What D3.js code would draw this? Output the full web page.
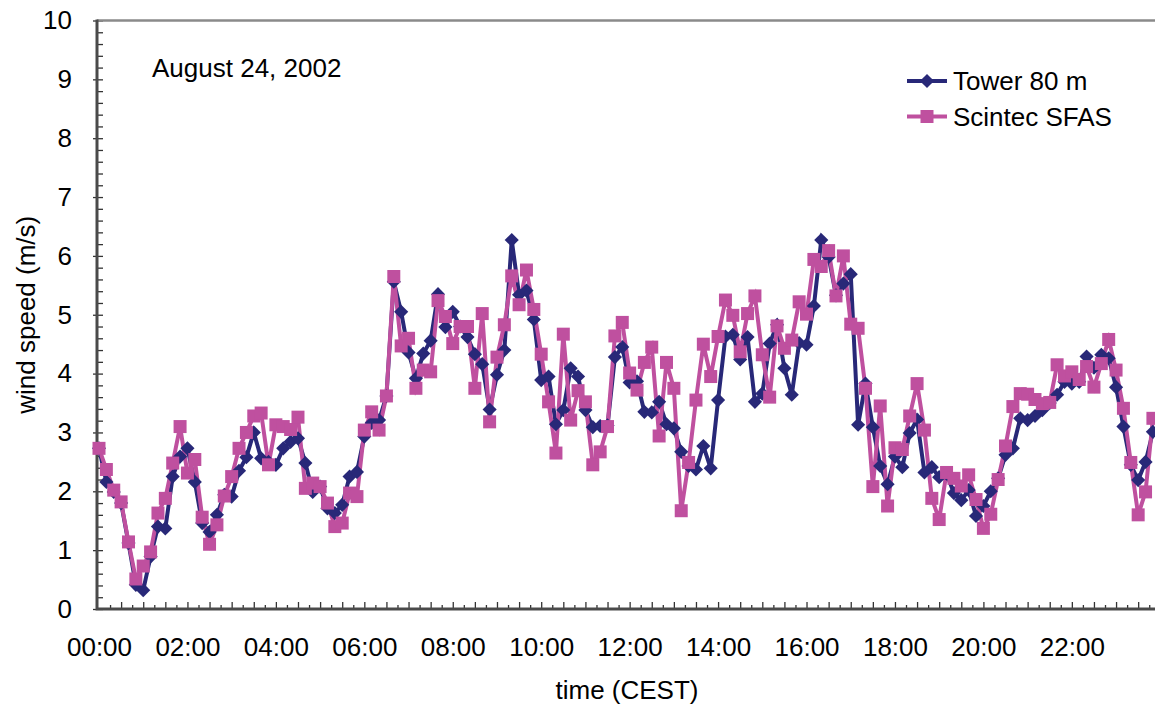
<!DOCTYPE html>
<html>
<head>
<meta charset="utf-8">
<script src="https://cdn.jsdelivr.net/npm/d3@7"></script>
<style>
  body { margin: 0; background: #fff; }
  svg { display: block; font-family: "Liberation Sans", Arial, sans-serif; }
</style>
</head>
<body>
<div id="chart-area"></div>
<script>
// wind speed every 10 minutes, August 24, 2002
const tower = [
  2.73, 2.16, 1.99, 1.80, 1.12, 0.41, 0.32, 0.89, 1.40, 1.37, 2.25, 2.59,
  2.73, 2.16, 1.46, 1.31, 1.60, 1.94, 1.91, 2.35, 2.58, 3.00, 2.56, 2.50,
  2.45, 2.73, 2.84, 2.90, 2.48, 1.99, 2.08, 1.71, 1.63, 1.77, 2.25, 2.33,
  2.93, 3.16, 3.21, 3.62, 5.56, 5.05, 4.36, 3.92, 4.34, 4.56, 5.35, 4.79,
  5.05, 4.80, 4.62, 4.33, 4.16, 3.39, 3.98, 4.40, 6.27, 5.34, 5.41, 4.92,
  3.89, 3.95, 3.14, 3.38, 4.09, 3.95, 3.38, 3.09, 3.11, 3.12, 4.28, 4.45,
  3.85, 3.87, 3.35, 3.34, 3.52, 3.14, 3.07, 2.67, 2.43, 2.37, 2.77, 2.39,
  3.55, 4.63, 4.66, 4.24, 4.62, 3.52, 3.66, 4.51, 4.83, 4.09, 3.64, 4.52,
  4.49, 5.15, 6.27, 5.98, 5.33, 5.53, 5.69, 3.13, 3.83, 3.09, 2.43, 2.12,
  2.59, 2.41, 2.99, 3.22, 2.32, 2.41, 2.24, 2.30, 1.97, 1.85, 2.02, 1.58,
  1.75, 2.00, 2.22, 2.62, 2.73, 3.24, 3.21, 3.28, 3.38, 3.50, 3.64, 3.86,
  3.83, 3.86, 4.29, 4.10, 4.32, 4.26, 3.77, 3.10, 2.45, 2.19, 2.50, 3.01
]
const scintec = [
  2.73, 2.37, 2.02, 1.82, 1.14, 0.51, 0.73, 0.97, 1.63, 1.88, 2.48, 3.10,
  2.31, 2.54, 1.56, 1.10, 1.43, 1.92, 2.25, 2.73, 3.00, 3.28, 3.33, 2.45,
  3.13, 3.10, 3.05, 3.26, 2.05, 2.14, 2.08, 1.80, 1.40, 1.46, 1.97, 1.91,
  3.04, 3.35, 3.04, 3.62, 5.65, 4.47, 4.60, 3.75, 4.06, 4.03, 5.24, 4.97,
  4.51, 4.80, 4.80, 3.75, 5.02, 3.18, 4.28, 4.83, 5.66, 5.17, 5.76, 5.09,
  4.33, 3.52, 2.65, 4.67, 3.21, 3.71, 3.52, 2.45, 2.67, 3.10, 4.64, 4.87,
  4.01, 3.72, 4.19, 4.45, 2.94, 4.19, 3.75, 1.67, 2.49, 3.55, 4.50, 3.95,
  4.63, 5.25, 4.99, 4.37, 5.02, 5.32, 4.32, 3.60, 4.81, 4.43, 4.57, 5.22,
  5.01, 5.94, 5.82, 6.09, 5.32, 6.00, 4.84, 4.77, 3.75, 2.08, 3.45, 1.75,
  2.74, 2.71, 3.28, 3.83, 3.04, 1.88, 1.52, 2.32, 2.22, 2.09, 2.28, 1.86,
  1.37, 1.61, 2.20, 2.77, 3.44, 3.66, 3.65, 3.56, 3.49, 3.51, 4.15, 3.96,
  4.03, 3.90, 4.12, 3.77, 4.17, 4.58, 4.06, 3.41, 2.49, 1.60, 1.99, 3.24
]
const STEP_MIN = 10
const xTickMinutes = d3.range(0, 1321, 120)
const yTicks = d3.range(0, 11)

const WIDTH = 1155
const HEIGHT = 706
const FONT = "26px"
const NAVY = "#282878"
const PINK = "#BF509F"

const svg = d3.select("#chart-area").append("svg")
  .attr("width", WIDTH)
  .attr("height", HEIGHT)

const x = d3.scaleLinear()
  .domain([0, 1440])
  .range([99, 99 + 144 * 7.37])

const y = d3.scaleLinear()
  .domain([0, 10])
  .range([609, 20.5])

const fmt = m => d3.format("02")(Math.floor(m / 60)) + ":" + d3.format("02")(m % 60)

// x tick marks (inside), long every 30 min, short in between
svg.append("g")
  .attr("transform", `translate(0, ${y(0)})`)
  .call(d3.axisBottom(x).tickValues(d3.range(30, 1441, 30)).tickSize(-7).tickFormat(""))
  .call(g => g.select(".domain").remove())
  .selectAll("line").attr("stroke", "#333").attr("stroke-width", 1.3)

svg.append("g")
  .attr("transform", `translate(0, ${y(0)})`)
  .call(d3.axisBottom(x).tickValues(d3.range(15, 1441, 30)).tickSize(-4).tickFormat(""))
  .call(g => g.select(".domain").remove())
  .selectAll("line").attr("stroke", "#333").attr("stroke-width", 1.3)

// x labels
svg.append("g")
  .attr("transform", `translate(0, ${y(0)})`)
  .call(d3.axisBottom(x).tickValues(xTickMinutes).tickSize(0).tickFormat(fmt))
  .call(g => g.select(".domain").remove())
  .selectAll("text")
    .attr("y", 47)
    .attr("dy", null)
    .attr("fill", "#000")
    .style("font-size", FONT)
    .style("font-family", "Liberation Sans, Arial, sans-serif")

// y minor ticks every 0.2 (inside)
svg.append("g")
  .attr("transform", "translate(97, 0)")
  .call(d3.axisLeft(y).tickValues(d3.range(0, 10.01, 0.2)).tickSize(-6).tickFormat(""))
  .call(g => g.select(".domain").remove())
  .selectAll("line").attr("stroke", "#333").attr("stroke-width", 1.3)

// y major ticks crossing
svg.append("g")
  .attr("transform", "translate(97, 0)")
  .call(d3.axisLeft(y).tickValues(yTicks).tickSizeInner(4).tickSizeOuter(0).tickPadding(21))
  .call(g => g.select(".domain").remove())
  .call(g => g.selectAll("line").attr("stroke", "#333").attr("stroke-width", 1.3))
  .selectAll("text")
    .attr("fill", "#000")
    .style("font-size", FONT)
    .style("font-family", "Liberation Sans, Arial, sans-serif")

// plot frame: gray top line, dark left and bottom axes
svg.append("line")
  .attr("x1", 97).attr("x2", WIDTH)
  .attr("y1", y(10)).attr("y2", y(10))
  .attr("stroke", "#8a8a8a").attr("stroke-width", 2.5)

svg.append("path")
  .attr("d", `M97,${y(10) - 1}V${y(0)}H${WIDTH}`)
  .attr("fill", "none")
  .attr("stroke", "#4a4a4a")
  .attr("stroke-width", 3)

// axis titles
svg.append("text")
  .attr("x", -(y(0) + y(10)) / 2)
  .attr("y", 35)
  .attr("transform", "rotate(-90)")
  .attr("text-anchor", "middle")
  .style("font-size", FONT)
  .text("wind speed (m/s)")

svg.append("text")
  .attr("x", 627)
  .attr("y", 699)
  .attr("text-anchor", "middle")
  .style("font-size", FONT)
  .text("time (CEST)")

svg.append("text")
  .attr("x", 152)
  .attr("y", 77)
  .style("font-size", FONT)
  .text("August 24, 2002")

// series
const line = d3.line()
  .x((d, i) => x(i * STEP_MIN))
  .y(d => y(d))

const diamond = d3.symbol().type(d3.symbolSquare).size(100)()
const square = d3.symbol().type(d3.symbolSquare).size(169)()

svg.append("path")
  .datum(tower)
  .attr("d", line)
  .attr("fill", "none")
  .attr("stroke", NAVY)
  .attr("stroke-width", 4)
  .attr("stroke-linejoin", "miter")

svg.append("path")
  .datum(scintec)
  .attr("d", line)
  .attr("fill", "none")
  .attr("stroke", PINK)
  .attr("stroke-width", 4)
  .attr("stroke-linejoin", "miter")

svg.append("g").selectAll("path")
  .data(tower)
  .enter().append("path")
    .attr("d", diamond)
    .attr("transform", (d, i) => `translate(${x(i * STEP_MIN)}, ${y(d)}) rotate(45)`)
    .attr("fill", NAVY)

svg.append("g").selectAll("path")
  .data(scintec)
  .enter().append("path")
    .attr("d", square)
    .attr("transform", (d, i) => `translate(${x(i * STEP_MIN)}, ${y(d)})`)
    .attr("fill", PINK)

// legend
const legend = svg.append("g")
const items = [
  { name: "Tower 80 m", color: NAVY, sym: diamond, rot: 45, y: 81 },
  { name: "Scintec SFAS", color: PINK, sym: square, rot: 0, y: 116.5 }
]
items.forEach(it => {
  legend.append("line")
    .attr("x1", 907).attr("x2", 947)
    .attr("y1", it.y).attr("y2", it.y)
    .attr("stroke", it.color).attr("stroke-width", 4)
  legend.append("path")
    .attr("d", it.sym)
    .attr("transform", `translate(927, ${it.y}) rotate(${it.rot})`)
    .attr("fill", it.color)
  legend.append("text")
    .attr("x", 953)
    .attr("y", it.y + 9)
    .style("font-size", FONT)
    .text(it.name)
})
</script>
</body>
</html>
